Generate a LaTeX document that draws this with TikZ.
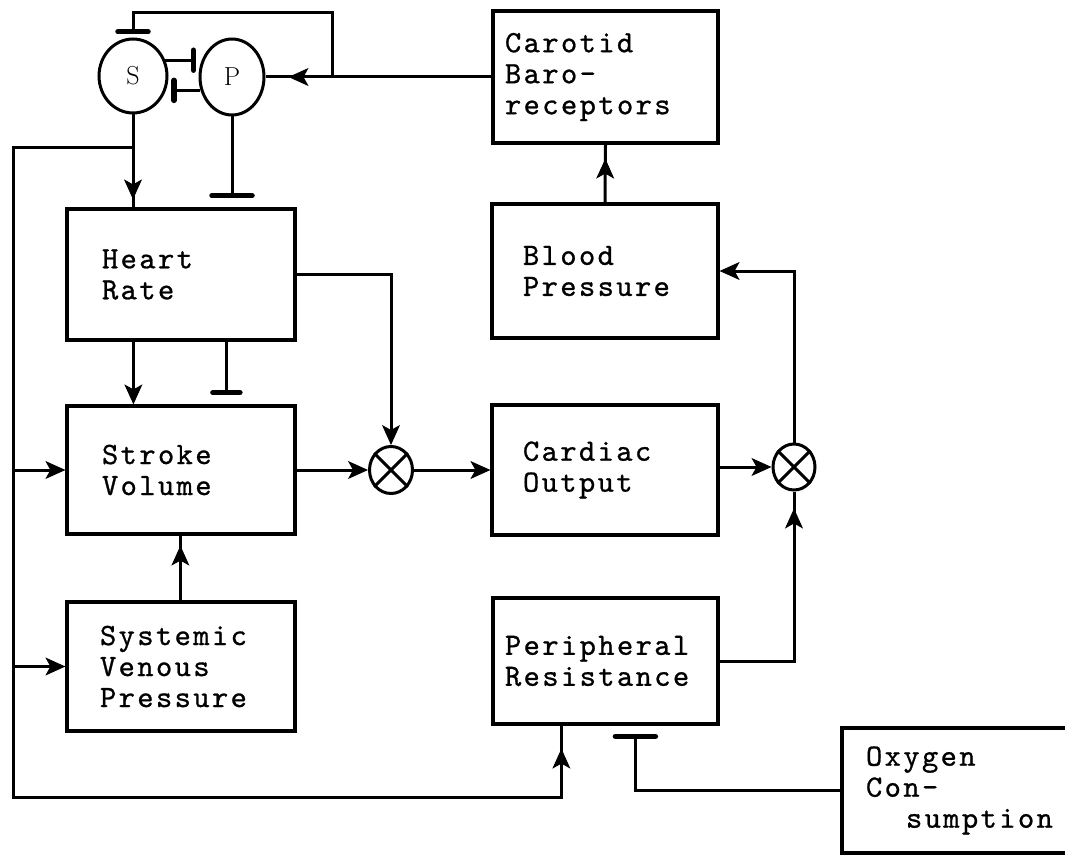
\documentclass[tikz,border=0pt]{standalone}
\usepackage{fontspec}
\usetikzlibrary{arrows.meta,shapes.geometric,decorations.markings}
\newfontfamily\boxtt{lmmono10-regular}[Extension=.otf,LetterSpace=7.7,FakeBold=0.8]
\newcommand\boxfont{\boxtt\fontsize{31}{31}\selectfont}
\begin{document}
\begin{tikzpicture}[x=1pt,y=-1pt,
  conn/.style={line width=3pt},
  >={Stealth[length=20pt,width=18pt,inset=5pt,line width=1pt]},
  inh/.style={-{Bar[width=#1,line width=5.5pt,round]}},
  inh/.default=36pt,
  marr/.style={postaction={decorate},decoration={markings,mark=at position #1 with {\arrow{Stealth[length=20pt,width=18pt,inset=5pt,line width=1pt]}}}},
  box/.style={draw,line width=3.2pt,rectangle,inner ysep=0pt,align=left,font=\boxfont},
  cell/.style={draw,line width=3pt,ellipse,inner sep=0pt,font=\fontsize{26}{26}\selectfont},
  mult/.style={draw,line width=3pt,ellipse,inner sep=0pt},
]
\useasboundingbox (0,0) rectangle (1065,856);
\clip (0,0) rectangle (1065,856);
\fill[white] (0,0) rectangle (1065,856);

% boxes
\node[box,minimum width=225pt,minimum height=132pt,inner xsep=12pt,text width=201pt] (CB) at (605.5,77) {Carotid\\Baro-\\receptors};
\node[box,minimum width=226pt,minimum height=134pt,inner xsep=31pt,text width=164pt] (BP) at (605,271) {Blood\\Pressure};
\node[box,minimum width=226pt,minimum height=130pt,inner xsep=31pt,text width=164pt] (CO) at (605,470) {Cardiac\\Output};
\node[box,minimum width=225pt,minimum height=126pt,inner xsep=12pt,text width=201pt] (PR) at (605.5,661) {Peripheral\\Resistance};
\node[box,minimum width=260pt,minimum height=125pt,inner xsep=24pt,text width=212pt] (OC) at (972,790.5) {Oxygen\\Con-\\\hspace*{40pt}sumption};
\node[box,minimum width=228pt,minimum height=131pt,inner xsep=35pt,text width=158pt] (HR) at (181,274.5) {Heart\\Rate};
\node[box,minimum width=228pt,minimum height=128pt,inner xsep=35pt,text width=158pt] (SV) at (181,470) {Stroke\\Volume};
\node[box,minimum width=228pt,minimum height=129pt,inner xsep=33pt,text width=162pt] (SVP) at (181,666.5) {Systemic\\Venous\\Pressure};

% neural centres and multipliers
\node[cell,minimum width=68pt,minimum height=74pt] (S) at (133,76) {S};
\node[cell,minimum width=64pt,minimum height=76pt] (P) at (232,77) {P};
\node[mult,minimum width=43pt,minimum height=47pt] (m1) at (391,470) {};
\node[mult,minimum width=42pt,minimum height=46pt] (m2) at (794,467) {};
\draw[conn] (m1.45) -- (m1.225) (m1.135) -- (m1.315);
\draw[conn] (m2.45) -- (m2.225) (m2.135) -- (m2.315);

% helper coordinates
\coordinate (j1) at (332,77);
\coordinate (t1) at (133,13);
\coordinate (j2) at (133,147);
\coordinate (ll) at (13,797);

% baroreceptor feedback
\draw[conn,marr=-23pt] (CB.west) -- (P.east);
\draw[conn,inh=30pt,shorten >=3pt] (j1) |- (t1) -- (S.north);
\draw[conn,inh=20pt,shorten >=5pt] (S.26) -- (P.153 |- S.26);
\draw[conn,inh=20pt,shorten >=5pt] (P.203) -- (S.338 |- P.203);

% S and P to heart rate
\draw[conn,marr=-8pt] (S.south) -- (S.south |- HR.north);
\draw[conn,inh=40pt,shorten >=9pt] (P.south) -- (P.south |- HR.north);

% sympathetic outflow loop
\draw[conn,marr=-23pt] (j2) -| (ll) -| ([xshift=70pt]PR.south west);
\draw[conn,->] (ll |- SV.west) -- (SV.west);
\draw[conn,->] (ll |- SVP.west) -- (SVP.west);

% heart rate to stroke volume
\draw[conn,->] ([xshift=68pt]HR.south west) -- ([xshift=68pt]SV.north west);
\draw[conn,inh=27pt,shorten >=9pt] ([xshift=161pt]HR.south west) -- ([xshift=161pt]SV.north west);
\draw[conn,marr=-10pt] ([xshift=115pt]SVP.north west) -- ([xshift=115pt]SV.south west);

% cardiac output
\draw[conn,->] (HR.east) -| (m1.north);
\draw[conn,->] (SV.east) -- (m1.west);
\draw[conn,->] (m1.east) -- (m1.east -| CO.west);
\draw[conn,->] (CO.east |- m2.west) -- (m2.west);

% blood pressure
\draw[conn,->] (m2.north) |- (BP.east);
\draw[conn,marr=-14pt] (BP.north) -- (CB.south);
\draw[conn,marr=-17pt] (PR.east) -| (m2.south);

% oxygen consumption
\draw[conn,inh=40pt,shorten >=8pt] (OC.west) -| ([xshift=144pt]PR.south west);
\end{tikzpicture}
\end{document}
